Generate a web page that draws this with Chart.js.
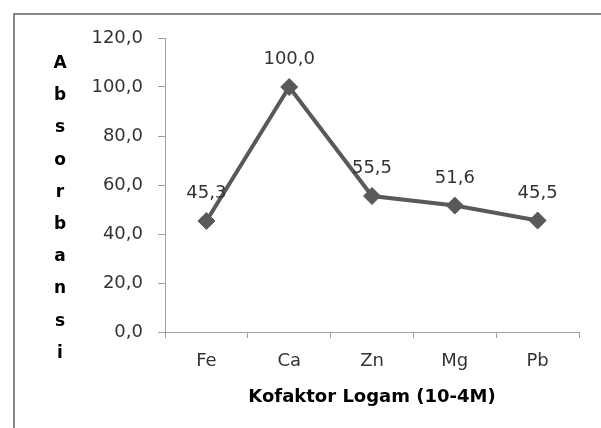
<!DOCTYPE html>
<html>
<head>
<meta charset="utf-8">
<script src="https://cdn.jsdelivr.net/npm/chart.js@4.4.0/dist/chart.umd.min.js"></script>
<style>
html,body{margin:0;padding:0;background:#fff;}
#wrap{width:601px;height:428px;position:relative;}
</style>
</head>
<body>
<div id="wrap"><canvas id="c" width="601" height="428"></canvas></div>
<script>
const categories = ["Fe", "Ca", "Zn", "Mg", "Pb"];
const absorbansi = [45.3, 100.0, 55.5, 51.6, 45.5];
const yMin = 0, yMax = 120, yStep = 20;
const yTitle = "Absorbansi";
const xTitle = "Kofaktor Logam (10-4M)";

const FONT = "'DejaVu Sans', sans-serif";
const fmt = v => Number(v).toFixed(1).replace('.', ',');

const decor = {
  id: 'decor',
  beforeDraw(chart) {
    const ctx = chart.ctx;
    ctx.save();
    ctx.fillStyle = '#fff';
    ctx.fillRect(0, 0, chart.width, chart.height);
    ctx.strokeStyle = '#878787';
    ctx.lineWidth = 2;
    ctx.beginPath();
    ctx.moveTo(14, 430);
    ctx.lineTo(14, 14);
    ctx.lineTo(605, 14);
    ctx.stroke();
    ctx.restore();
  },
  afterDraw(chart) {
    const ctx = chart.ctx;
    const area = chart.chartArea;
    ctx.save();
    // y title, stacked letters
    ctx.fillStyle = '#000';
    ctx.font = "bold 17px " + FONT;
    ctx.textAlign = 'center';
    ctx.textBaseline = 'alphabetic';
    const letters = yTitle.split('');
    letters.forEach((ch, i) => {
      ctx.fillText(ch, 60, 68 + i * 32.2);
    });
    // x title
    ctx.font = "bold 18px " + FONT;
    ctx.fillText(xTitle, (area.left + area.right) / 2, 402);
    // data labels
    ctx.fillStyle = '#333333';
    ctx.font = "18px " + FONT;
    const meta = chart.getDatasetMeta(0);
    meta.data.forEach((pt, i) => {
      ctx.fillText(fmt(absorbansi[i]), pt.x, pt.y - 23);
    });
    ctx.restore();
  }
};

new Chart(document.getElementById('c'), {
  type: 'line',
  data: {
    labels: categories,
    datasets: [{
      data: absorbansi,
      borderColor: '#595959',
      backgroundColor: '#595959',
      borderWidth: 4,
      pointStyle: 'rectRot',
      pointRadius: 8.5,
      pointHoverRadius: 8.5,
      pointBorderWidth: 1,
      pointBorderColor: '#595959',
      pointBackgroundColor: '#595959',
      tension: 0,
      fill: false
    }]
  },
  options: {
    responsive: false,
    animation: false,
    devicePixelRatio: 1,
    layout: { padding: { left: 80, right: 22, top: 38, bottom: 0 } },
    plugins: { legend: { display: false }, tooltip: { enabled: false }, title: { display: false } },
    scales: {
      x: {
        type: 'category',
        offset: true,
        grid: { display: true, offset: true, drawOnChartArea: false, drawTicks: true, tickLength: 6, color: '#a0a0a0', lineWidth: 1 },
        border: { display: true, color: '#a0a0a0', width: 1 },
        ticks: { color: '#333333', font: { family: FONT, size: 18 }, padding: 13, maxRotation: 0 },
        afterFit(s) { s.height = 96; }
      },
      y: {
        min: yMin, max: yMax,
        grid: { display: true, drawOnChartArea: false, drawTicks: true, tickLength: 7, color: '#a0a0a0', lineWidth: 1 },
        border: { display: true, color: '#a0a0a0', width: 1 },
        ticks: { stepSize: yStep, color: '#333333', font: { family: FONT, size: 18 }, padding: 15, callback: v => fmt(v) },
        afterFit(s) { s.width = 85; }
      }
    }
  },
  plugins: [decor]
});
</script>
</body>
</html>
